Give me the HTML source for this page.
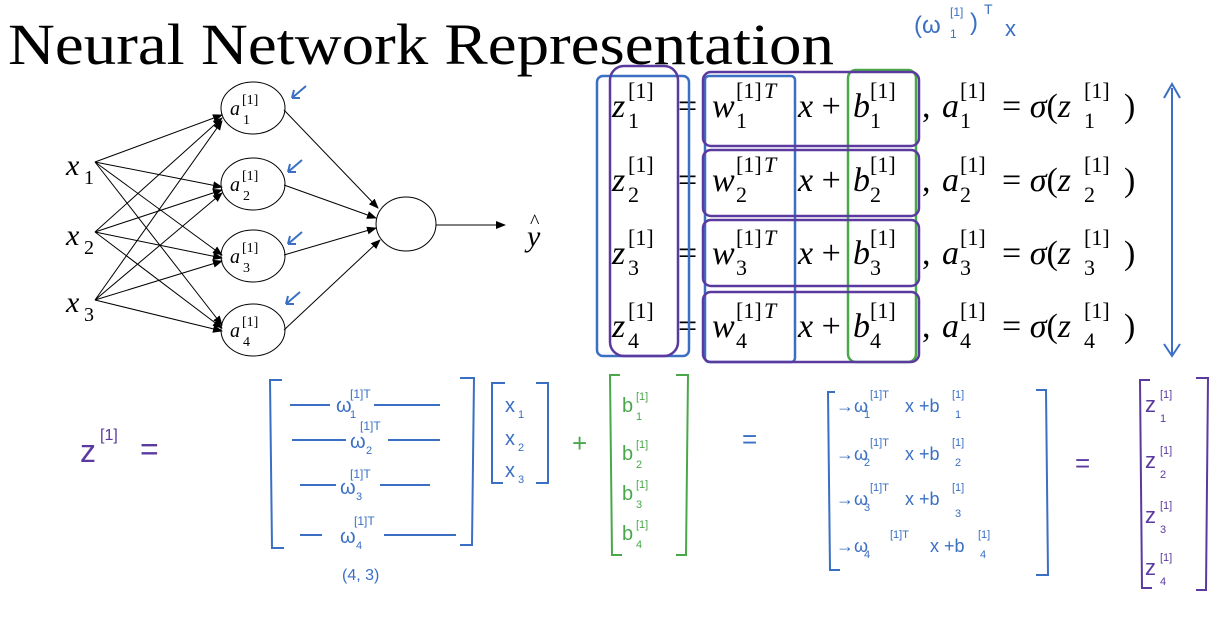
<!DOCTYPE html>
<html><head><meta charset="utf-8"><style>
html,body{margin:0;padding:0;background:#fff;width:1216px;height:635px;overflow:hidden}
svg{display:block}
</style></head><body>
<svg width="1216" height="635" viewBox="0 0 1216 635" xmlns="http://www.w3.org/2000/svg">
<defs><marker id="ar" markerWidth="10" markerHeight="8" refX="9" refY="4" orient="auto"><path d="M0,0 L10,4 L0,8z" fill="#000"/></marker></defs>
<text x="8" y="64" font-family="Liberation Serif,serif" font-size="58" textLength="826" lengthAdjust="spacingAndGlyphs" fill="#000">Neural Network Representation</text>
<g font-family="Liberation Sans,sans-serif" fill="#3a6fc4">
<text x="914" y="33" font-size="24">(ω</text><text x="950" y="38" font-size="12">1</text><text x="950" y="16" font-size="12">[1]</text><text x="970" y="30" font-size="24">)</text><text x="984" y="14" font-size="14">T</text><text x="1005" y="36" font-size="22">x</text>
</g>
<!-- network -->
<g stroke="#000" stroke-width="1" fill="none">
<g marker-end="url(#ar)">
<line x1="95" y1="162" x2="222" y2="115"/><line x1="95" y1="162" x2="222" y2="187"/><line x1="95" y1="162" x2="222" y2="255"/><line x1="95" y1="162" x2="222" y2="325"/>
<line x1="95" y1="232" x2="222" y2="118"/><line x1="95" y1="232" x2="222" y2="190"/><line x1="95" y1="232" x2="222" y2="258"/><line x1="95" y1="232" x2="222" y2="328"/>
<line x1="95" y1="300" x2="222" y2="121"/><line x1="95" y1="300" x2="222" y2="193"/><line x1="95" y1="300" x2="222" y2="261"/><line x1="95" y1="300" x2="222" y2="331"/>
<line x1="284" y1="110" x2="378" y2="208"/><line x1="284" y1="185" x2="376" y2="218"/><line x1="284" y1="255" x2="376" y2="228"/><line x1="284" y1="330" x2="380" y2="240"/>
<line x1="436" y1="225" x2="505" y2="225"/></g>
<ellipse cx="253" cy="108" rx="32" ry="26"/><ellipse cx="253" cy="184" rx="32" ry="26"/><ellipse cx="253" cy="256" rx="32" ry="26"/><ellipse cx="253" cy="330" rx="32" ry="26"/>
<ellipse cx="406" cy="224" rx="30" ry="27"/>
</g>
<g font-family="Liberation Serif,serif" fill="#000">
<text x="66" y="175" font-size="30" font-style="italic">x</text><text x="84" y="184" font-size="20">1</text>
<text x="66" y="245" font-size="30" font-style="italic">x</text><text x="84" y="254" font-size="20">2</text>
<text x="66" y="312" font-size="30" font-style="italic">x</text><text x="84" y="321" font-size="20">3</text>
</g>
<g font-family="Liberation Serif,serif" font-size="20"><text x="230" y="115" font-style="italic">a</text><text x="242" y="104" font-size="14">[1]</text><text x="243" y="124" font-size="14">1</text>
<text x="230" y="191" font-style="italic">a</text><text x="242" y="180" font-size="14">[1]</text><text x="243" y="200" font-size="14">2</text>
<text x="230" y="263" font-style="italic">a</text><text x="242" y="252" font-size="14">[1]</text><text x="243" y="272" font-size="14">3</text>
<text x="230" y="337" font-style="italic">a</text><text x="242" y="326" font-size="14">[1]</text><text x="243" y="346" font-size="14">4</text></g>
<text x="527" y="246" font-family="Liberation Serif,serif" font-style="italic" font-size="30">y</text><text x="530" y="228" font-family="Liberation Serif,serif" font-size="20">^</text>
<g stroke="#3a6fc4" stroke-width="2" fill="none"><path d="M306,86 L292,98 M292,98 l2,-8 M292,98 l8,0"/><path d="M302,160 L288,172 M288,172 l2,-8 M288,172 l8,0"/><path d="M302,232 L288,244 M288,244 l2,-8 M288,244 l8,0"/><path d="M300,292 L286,304 M286,304 l2,-8 M286,304 l8,0"/></g>
<!-- equations -->
<g font-family="Liberation Serif,serif" fill="#000">
<g id="r1">
<text x="612" y="117" font-size="34" font-style="italic">z</text><text x="628" y="98" font-size="22">[1]</text>
<text x="678" y="117" font-size="34">=</text>
<text x="712" y="117" font-size="34" font-style="italic">w</text><text x="736" y="98" font-size="22">[1]</text><text x="764" y="98" font-size="22" font-style="italic">T</text>
<text x="798" y="117" font-size="34"><tspan font-style="italic">x</tspan> +</text>
<text x="853" y="117" font-size="34" font-style="italic">b</text><text x="870" y="98" font-size="22">[1]</text>
<text x="922" y="117" font-size="34">,</text>
<text x="942" y="117" font-size="34" font-style="italic">a</text><text x="960" y="98" font-size="22">[1]</text>
<text x="1002" y="117" font-size="34">= <tspan font-style="italic">σ</tspan>(<tspan font-style="italic">z</tspan></text><text x="1084" y="98" font-size="22">[1]</text><text x="1124" y="117" font-size="34">)</text>
</g>
<use href="#r1" transform="translate(0,74)"/>
<use href="#r1" transform="translate(0,147)"/>
<use href="#r1" transform="translate(0,220)"/>
</g>
<g font-family="Liberation Serif,serif" font-size="22" fill="#000">
<text x="628" y="128">1</text><text x="736" y="128">1</text><text x="870" y="128">1</text><text x="960" y="128">1</text><text x="1084" y="128">1</text>
<text x="628" y="202">2</text><text x="736" y="202">2</text><text x="870" y="202">2</text><text x="960" y="202">2</text><text x="1084" y="202">2</text>
<text x="628" y="275">3</text><text x="736" y="275">3</text><text x="870" y="275">3</text><text x="960" y="275">3</text><text x="1084" y="275">3</text>
<text x="628" y="348">4</text><text x="736" y="348">4</text><text x="870" y="348">4</text><text x="960" y="348">4</text><text x="1084" y="348">4</text>
</g>
<g fill="none" stroke-width="2.5">
<rect x="597" y="76" width="92" height="280" rx="6" stroke="#3a6fc4"/>
<rect x="610" y="66" width="68" height="290" rx="14" stroke="#5b3aa0"/>
<rect x="705" y="76" width="90" height="286" rx="4" stroke="#3a6fc4"/>
<rect x="848" y="70" width="68" height="292" rx="8" stroke="#4aa84a"/>
<rect x="703" y="72" width="216" height="74" rx="8" stroke="#5b3aa0"/>
<rect x="703" y="150" width="216" height="66" rx="8" stroke="#5b3aa0"/>
<rect x="703" y="220" width="216" height="66" rx="8" stroke="#5b3aa0"/>
<rect x="703" y="292" width="216" height="70" rx="8" stroke="#5b3aa0"/>
<path d="M1172,88 L1172,354 M1164,98 L1172,84 L1180,98 M1164,344 L1172,356 L1180,344" stroke="#3a6fc4" stroke-width="2"/>
</g>
<!-- bottom handwritten -->
<g font-family="Liberation Sans,sans-serif">
<text x="80" y="462" font-size="32" fill="#5b3aa0">z</text><text x="100" y="440" font-size="16" fill="#5b3aa0">[1]</text><text x="140" y="460" font-size="32" fill="#5b3aa0">=</text>
<g fill="none" stroke="#3a6fc4" stroke-width="2">
<path d="M282,380 L270,380 L272,548 L284,548"/><path d="M460,378 L474,378 L472,545 L460,545"/>
<path d="M290,405 L330,405 M374,405 L440,405 M292,440 L346,440 M388,440 L440,440 M300,485 L336,485 M380,485 L430,485 M300,535 L322,535 M384,535 L456,535"/>
<path d="M505,383 L492,383 L492,483 L503,483"/><path d="M536,383 L548,383 L548,483 L536,483"/>
<path d="M835,392 L828,392 L830,570 L840,570"/><path d="M1036,390 L1046,390 L1048,575 L1036,575"/>
</g>
<g fill="#3a6fc4" font-size="20">
<text x="336" y="412">ω</text><text x="350" y="418" font-size="11">1</text><text x="350" y="398" font-size="12">[1]T</text>
<text x="350" y="448">ω</text><text x="366" y="454" font-size="11">2</text><text x="360" y="430" font-size="12">[1]T</text>
<text x="340" y="494">ω</text><text x="356" y="500" font-size="11">3</text><text x="350" y="478" font-size="12">[1]T</text>
<text x="340" y="543">ω</text><text x="356" y="549" font-size="11">4</text><text x="354" y="525" font-size="12">[1]T</text>
<text x="342" y="580" font-size="16">(4, 3)</text>
<text x="505" y="412">x</text><text x="518" y="418" font-size="11">1</text>
<text x="505" y="445">x</text><text x="518" y="451" font-size="11">2</text>
<text x="505" y="477">x</text><text x="518" y="483" font-size="11">3</text>
<text x="742" y="448" font-size="26">=</text>
<text x="836" y="412" font-size="18">→ω</text><text x="864" y="418" font-size="11">1</text><text x="870" y="398" font-size="11">[1]T</text><text x="905" y="412" font-size="18">x +b</text><text x="955" y="418" font-size="11">1</text><text x="952" y="398" font-size="11">[1]</text>
<text x="836" y="460" font-size="18">→ω</text><text x="864" y="466" font-size="11">2</text><text x="870" y="446" font-size="11">[1]T</text><text x="905" y="460" font-size="18">x +b</text><text x="955" y="466" font-size="11">2</text><text x="952" y="446" font-size="11">[1]</text>
<text x="836" y="505" font-size="18">→ω</text><text x="864" y="511" font-size="11">3</text><text x="870" y="491" font-size="11">[1]T</text><text x="905" y="505" font-size="18">x +b</text><text x="955" y="517" font-size="11">3</text><text x="952" y="491" font-size="11">[1]</text>
<text x="836" y="552" font-size="18">→ω</text><text x="864" y="558" font-size="11">4</text><text x="890" y="538" font-size="11">[1]T</text><text x="930" y="552" font-size="18">x +b</text><text x="980" y="558" font-size="11">4</text><text x="978" y="538" font-size="11">[1]</text>
</g>
<g fill="none" stroke="#4aa84a" stroke-width="2"><path d="M620,375 L610,375 L612,555 L622,555"/><path d="M676,375 L688,375 L686,555 L676,555"/></g>
<g fill="#4aa84a" font-size="20"><text x="572" y="452" font-size="26">+</text>
<text x="622" y="412">b</text><text x="636" y="400" font-size="11">[1]</text><text x="636" y="420" font-size="11">1</text>
<text x="622" y="460">b</text><text x="636" y="448" font-size="11">[1]</text><text x="636" y="468" font-size="11">2</text>
<text x="622" y="500">b</text><text x="636" y="488" font-size="11">[1]</text><text x="636" y="508" font-size="11">3</text>
<text x="622" y="540">b</text><text x="636" y="528" font-size="11">[1]</text><text x="636" y="548" font-size="11">4</text></g>
<g fill="none" stroke="#5b3aa0" stroke-width="2"><path d="M1150,380 L1140,380 L1142,588 L1152,588"/><path d="M1196,378 L1208,378 L1206,590 L1196,590"/></g>
<g fill="#5b3aa0" font-size="22"><text x="1075" y="472" font-size="26">=</text>
<text x="1145" y="412">z</text><text x="1160" y="398" font-size="11">[1]</text><text x="1160" y="422" font-size="11">1</text>
<text x="1145" y="468">z</text><text x="1160" y="454" font-size="11">[1]</text><text x="1160" y="478" font-size="11">2</text>
<text x="1145" y="523">z</text><text x="1160" y="509" font-size="11">[1]</text><text x="1160" y="533" font-size="11">3</text>
<text x="1145" y="575">z</text><text x="1160" y="561" font-size="11">[1]</text><text x="1160" y="585" font-size="11">4</text></g>
</g>
</svg>
</body></html>
